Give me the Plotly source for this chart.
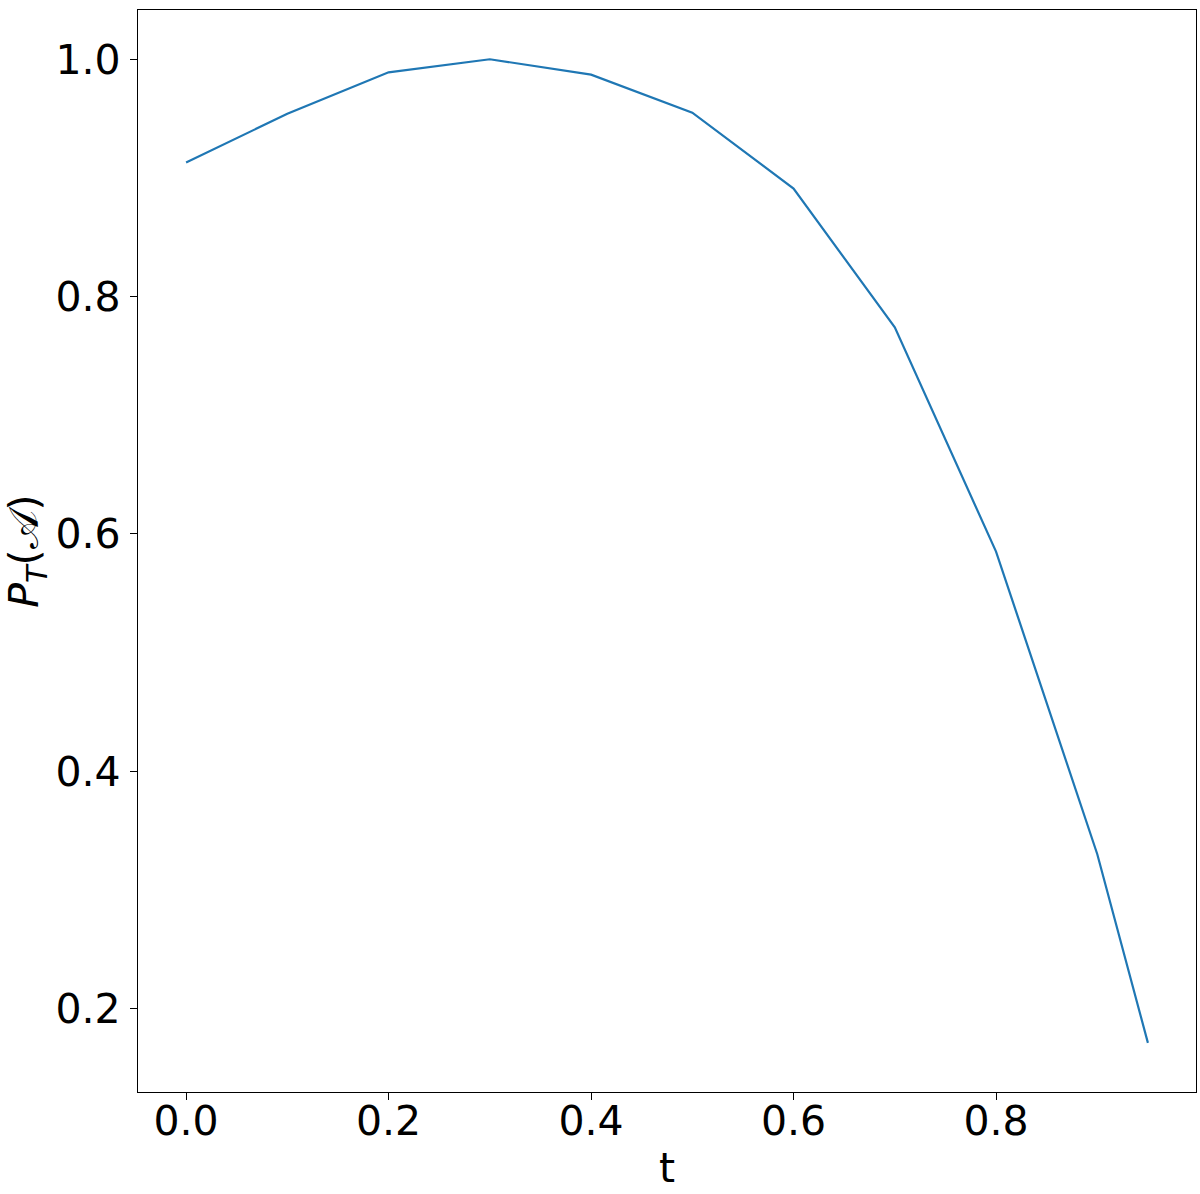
import plotly.graph_objects as go

t_values = [0.0, 0.1, 0.2, 0.3, 0.4, 0.5, 0.6, 0.7, 0.8, 0.9, 0.95]
p_values = [0.913, 0.954, 0.989, 1.0, 0.987, 0.955, 0.891, 0.774, 0.585, 0.330, 0.171]

x_ticks = [0.0, 0.2, 0.4, 0.6, 0.8]
y_ticks = [0.2, 0.4, 0.6, 0.8, 1.0]

fig = go.Figure()

fig.add_trace(go.Scatter(
    x=t_values,
    y=p_values,
    mode='lines',
    line=dict(color='#1f77b4', width=2.2),
    showlegend=False,
))

axis_style = dict(
    showline=True,
    linecolor='black',
    linewidth=1.3,
    mirror=True,
    showgrid=False,
    zeroline=False,
    automargin=False,
    ticks='outside',
    ticklen=7,
    tickwidth=1.3,
    tickcolor='black',
    tickfont=dict(size=41, color='black'),
)

fig.update_xaxes(
    range=[-0.0475, 0.9975],
    tickvals=x_ticks,
    ticktext=['%.1f' % v for v in x_ticks],
    ticklabelstandoff=-14,
    title=dict(text='t', font=dict(size=41, color='black'), standoff=8),
    **axis_style
)
fig.update_yaxes(
    range=[0.1296, 1.0415],
    tickvals=y_ticks,
    ticktext=['%.1f' % v for v in y_ticks],
    ticklabelstandoff=1,
    title=dict(text='<i>P</i><sub><i>T</i></sub>(𝒜)', font=dict(size=41, color='black'), standoff=17),
    **axis_style
)

fig.update_layout(
    width=1200,
    height=1194,
    margin=dict(l=138, r=4, t=10, b=102),
    plot_bgcolor='white',
    paper_bgcolor='white',
    font=dict(family='DejaVu Sans'),
)

# page default margin pushes the plot off the window, drop it
fig.write_html(
    "out.html",
    config={'displayModeBar': False},
    post_script="document.body.style.margin='0';document.body.style.overflow='hidden';",
)
